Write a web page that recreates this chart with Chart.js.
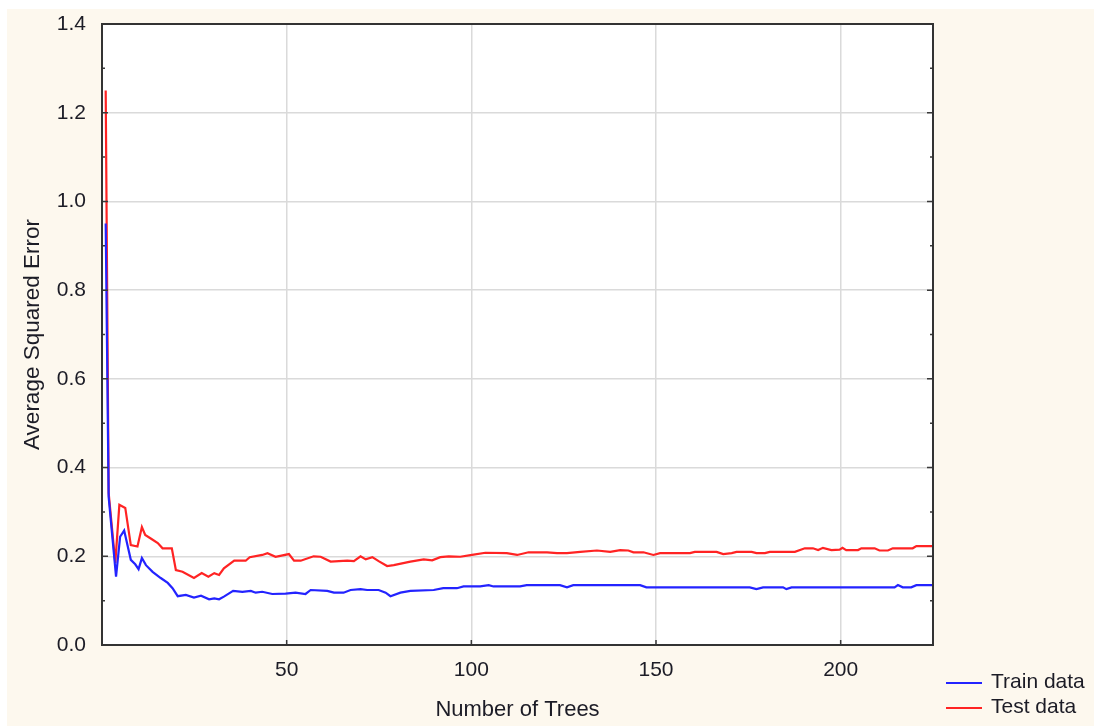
<!DOCTYPE html>
<html>
<head>
<meta charset="utf-8">
<title>Average Squared Error vs Number of Trees</title>
<script src="https://cdn.jsdelivr.net/npm/chart.js@4"></script>
<style>
  html, body { margin: 0; padding: 0; background: #fff; }
  canvas { display: block; }
</style>
</head>
<body>
<canvas id="myChart" width="1094" height="726"></canvas>
<script>
// valores (numero de arboles, error)
const trainTrees = [1, 1.8, 3.8, 4.9, 6, 7.8, 9, 9.9, 10.8, 11.9, 13.7, 15.9, 17.8, 19.1, 20.5, 22.7, 24.9, 26.8, 29, 30.4, 31.7, 33, 35.5, 38, 40.3, 41.6, 43.4, 46.1, 49.7, 52.4, 55.1, 56.5, 61, 62.8, 65.4, 67.3, 70, 71.8, 74.9, 76.8, 78.1, 80.8, 83.5, 89.8, 92.4, 96.1, 97.9, 102.4, 104.7, 106, 113.2, 115, 124, 125.9, 127.6, 145.7, 147.4, 175.4, 177.2, 179, 184.4, 185.3, 186.7, 214.6, 215.5, 216.8, 219.1, 220.5, 225];
const trainErr = [0.95, 0.334, 0.154, 0.244, 0.258, 0.192, 0.182, 0.171, 0.196, 0.18, 0.165, 0.151, 0.14, 0.128, 0.11, 0.113, 0.107, 0.111, 0.103, 0.105, 0.103, 0.109, 0.122, 0.12, 0.122, 0.118, 0.12, 0.115, 0.116, 0.118, 0.115, 0.124, 0.122, 0.118, 0.118, 0.124, 0.126, 0.124, 0.124, 0.118, 0.11, 0.118, 0.122, 0.124, 0.128, 0.128, 0.132, 0.132, 0.135, 0.132, 0.132, 0.135, 0.135, 0.13, 0.135, 0.135, 0.13, 0.13, 0.126, 0.13, 0.13, 0.126, 0.13, 0.13, 0.135, 0.13, 0.13, 0.135, 0.135];

const testTrees = [1, 1.8, 3.6, 4.7, 6.3, 7.8, 9.6, 10.8, 11.7, 13.2, 15.1, 16.4, 18.9, 20, 21.8, 24.9, 27, 28.8, 30.4, 31.7, 33, 35.8, 38.9, 40, 43.4, 44.8, 47, 50.6, 52, 53.8, 57.3, 59.2, 61.9, 66.4, 68.2, 70, 71.4, 73.2, 74.9, 77.2, 79, 83.5, 87.1, 89.4, 91.6, 93.9, 97, 100.2, 103.8, 109.6, 112.4, 115.5, 120.5, 123.2, 125.9, 129.5, 134, 137.6, 140.3, 142.5, 143.9, 146.6, 149.3, 151.1, 159.2, 160.5, 166.4, 168.2, 170.5, 171.8, 175.9, 177.2, 179.5, 180.8, 187.6, 190.3, 192.5, 193.9, 195.2, 197.5, 199.7, 200.5, 201.5, 204.7, 205.6, 209.2, 210.5, 212.8, 214.1, 219.5, 220.5, 225];
const testErr = [1.25, 0.343, 0.185, 0.316, 0.309, 0.225, 0.222, 0.266, 0.248, 0.24, 0.23, 0.218, 0.218, 0.169, 0.165, 0.151, 0.162, 0.154, 0.162, 0.158, 0.173, 0.19, 0.19, 0.198, 0.203, 0.207, 0.199, 0.205, 0.19, 0.19, 0.2, 0.199, 0.188, 0.19, 0.189, 0.2, 0.193, 0.198, 0.189, 0.178, 0.18, 0.188, 0.193, 0.191, 0.198, 0.2, 0.199, 0.203, 0.208, 0.207, 0.203, 0.209, 0.209, 0.207, 0.207, 0.21, 0.213, 0.21, 0.214, 0.213, 0.209, 0.209, 0.203, 0.207, 0.207, 0.21, 0.21, 0.205, 0.207, 0.21, 0.21, 0.207, 0.207, 0.21, 0.21, 0.218, 0.218, 0.214, 0.219, 0.214, 0.215, 0.219, 0.214, 0.214, 0.218, 0.218, 0.213, 0.213, 0.218, 0.218, 0.223, 0.223];

const xTicks = [50, 100, 150, 200];
const yTicks = [0, 0.2, 0.4, 0.6, 0.8, 1.0, 1.2, 1.4];
const yMinorTicks = [0.1, 0.3, 0.5, 0.7, 0.9, 1.1, 1.3];

const FONT = "'Liberation Sans', Arial, sans-serif";
const TXT = '#1c1c26';

function puntos(xs, ys) {
  return xs.map((x, i) => ({ x: x, y: ys[i] }));
}

// fondo crema, marco, marcas interiores y leyenda
const decoracion = {
  id: 'decoracion',
  beforeDraw(chart) {
    const { ctx, chartArea: a } = chart;
    ctx.save();
    ctx.fillStyle = '#ffffff';
    ctx.fillRect(0, 0, chart.width, chart.height);
    ctx.fillStyle = '#fdf8ee';
    ctx.fillRect(7, 9, chart.width - 7, chart.height - 9);
    ctx.fillStyle = '#ffffff';
    ctx.fillRect(a.left, a.top, a.right - a.left, a.bottom - a.top);
    ctx.restore();
  },
  afterDraw(chart) {
    const { ctx, chartArea: a } = chart;
    const x = chart.scales.x;
    const y = chart.scales.y;
    ctx.save();
    ctx.strokeStyle = '#3a3a3a';
    ctx.lineWidth = 1.5;
    ctx.beginPath();
    yTicks.forEach(v => {
      const py = y.getPixelForValue(v);
      ctx.moveTo(a.left, py); ctx.lineTo(a.left + 6, py);
      ctx.moveTo(a.right, py); ctx.lineTo(a.right - 6, py);
    });
    yMinorTicks.forEach(v => {
      const py = y.getPixelForValue(v);
      ctx.moveTo(a.left, py); ctx.lineTo(a.left + 3, py);
      ctx.moveTo(a.right, py); ctx.lineTo(a.right - 3, py);
    });
    xTicks.forEach(v => {
      const px = x.getPixelForValue(v);
      ctx.moveTo(px, a.bottom); ctx.lineTo(px, a.bottom - 5);
    });
    ctx.stroke();

    ctx.strokeStyle = '#333333';
    ctx.lineWidth = 2;
    ctx.strokeRect(a.left, a.top, a.right - a.left, a.bottom - a.top);

    // leyenda
    ctx.font = '21px ' + FONT;
    ctx.textBaseline = 'middle';
    ctx.textAlign = 'left';
    chart.data.datasets.forEach((ds, i) => {
      const ly = 683 + i * 25;
      ctx.strokeStyle = ds.borderColor;
      ctx.lineWidth = 2;
      ctx.beginPath();
      ctx.moveTo(946, ly); ctx.lineTo(982, ly);
      ctx.stroke();
      ctx.fillStyle = TXT;
      ctx.fillText(ds.label, 991, ly - 1);
    });
    ctx.restore();
  }
};

const ctx = document.getElementById('myChart').getContext('2d');
const chart = new Chart(ctx, {
  type: 'line',
  data: {
    datasets: [
      {
        label: 'Train data',
        data: puntos(trainTrees, trainErr),
        borderColor: 'rgb(35, 35, 255)',
        borderWidth: 2.2,
        pointRadius: 0,
        tension: 0
      },
      {
        label: 'Test data',
        data: puntos(testTrees, testErr),
        borderColor: 'rgb(255, 35, 35)',
        borderWidth: 2.2,
        pointRadius: 0,
        tension: 0
      }
    ]
  },
  options: {
    responsive: false,
    animation: false,
    layout: { padding: { left: 0, top: 24, right: 161, bottom: 0 } },
    plugins: {
      legend: { display: false },
      tooltip: { enabled: false }
    },
    scales: {
      x: {
        type: 'linear',
        min: 0,
        max: 225,
        afterFit(scale) {
          scale.height = 81;
          scale.paddingLeft = 0;
          scale.paddingRight = 0;
        },
        afterBuildTicks(scale) { scale.ticks = xTicks.map(v => ({ value: v })); },
        grid: { color: '#dadada', lineWidth: 1.5, drawTicks: false },
        border: { display: false },
        ticks: { padding: 13, color: TXT, font: { family: FONT, size: 21 } },
        title: {
          display: true,
          text: 'Number of Trees',
          color: TXT,
          font: { family: FONT, size: 22 },
          padding: { top: 0, bottom: 3 }
        }
      },
      y: {
        min: 0,
        max: 1.4,
        afterFit(scale) {
          scale.width = 102;
          scale.paddingTop = 0;
          scale.paddingBottom = 0;
        },
        afterBuildTicks(scale) { scale.ticks = yTicks.map(v => ({ value: v })); },
        grid: { color: '#dadada', lineWidth: 1.5, drawTicks: false },
        border: { display: false },
        ticks: {
          padding: 16,
          color: TXT,
          font: { family: FONT, size: 21 },
          callback: v => v.toFixed(1)
        },
        title: {
          display: true,
          text: 'Average Squared Error',
          color: TXT,
          font: { family: FONT, size: 22.5 },
          padding: { top: 19, bottom: 0 }
        }
      }
    }
  },
  plugins: [decoracion]
});
</script>
</body>
</html>
